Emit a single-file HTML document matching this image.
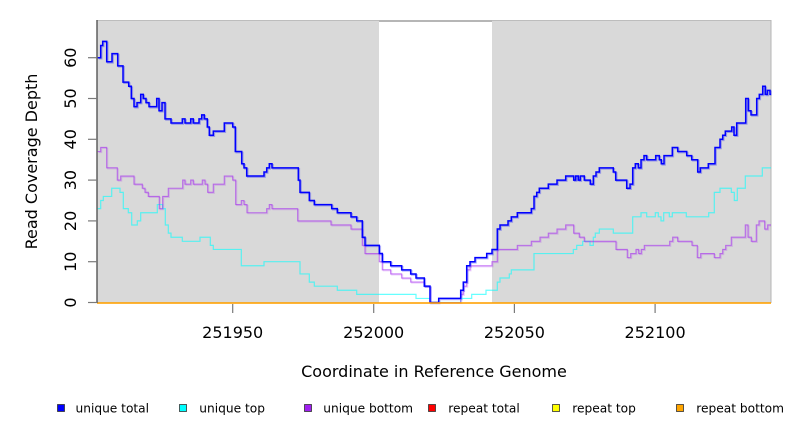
<!DOCTYPE html>
<html>
<head>
<meta charset="utf-8">
<style>
  html,body{margin:0;padding:0;background:#fff;}
  body{width:792px;height:432px;overflow:hidden;}
  svg{display:block;font-family:"DejaVu Sans","Liberation Sans",sans-serif;}
  .ln{fill:none;vector-effect:non-scaling-stroke;stroke-linejoin:miter;}
</style>
</head>
<body>
<svg width="792" height="432" viewBox="0 0 792 432" xmlns="http://www.w3.org/2000/svg">
  <!-- plot backgrounds -->
  <rect x="97" y="20" width="282" height="283" fill="#d9d9d9"/>
  <rect x="492" y="20" width="279" height="283" fill="#d9d9d9"/>
  <line x1="97" y1="20.5" x2="379" y2="20.5" stroke="#bdbdbd" stroke-width="1"/>
  <line x1="492" y1="20.5" x2="771" y2="20.5" stroke="#bdbdbd" stroke-width="1"/>
  <line x1="379" y1="21" x2="492" y2="21" stroke="#8a8a8a" stroke-width="1.2"/>
  <line x1="771" y1="20" x2="771" y2="303" stroke="#b5b5b5" stroke-width="1"/>

  <!-- halo copies -->
  <g transform="translate(1,303.5) scale(1,-4.08)">
    <path class="ln" stroke="#a020f0" stroke-opacity="0.2" stroke-width="1.1" d="M97.7 37 H100.7 V38 H106.7 V33 H117.3 V30 H120.7 V31 H134 V29 H142.3 V28 H145 V27 H148.3 V26 H159.3 V23 H162.7 V26 H168.3 V28 H182.7 V30 H185 V29 H190.7 V30 H193.3 V29 H202.3 V30 H205 V29 H207.7 V27 H213.3 V29 H224.3 V31 H232.7 V30 H235.7 V24 H241.3 V25 H244 V24 H247 V22 H266.7 V23 H269.3 V24 H272 V23 H297.7 V20 H331 V19 H351 V18 H362.3 V14 H365 V12 H379.3 V10 H382.3 V8 H390.7 V7 H401.7 V6 H410.7 V5 H424.3 V4 H430 V0 H460.7 V2 H463.3 V4 H466.7 V8 H470 V9 H492 V10 H497.3 V13 H517.3 V14 H531.3 V15 H540 V16 H548.3 V17 H557 V18 H565.7 V19 H573.7 V17 H579.3 V16 H584.3 V15 H616 V13 H627.3 V11 H630.7 V12 H636 V13 H638.7 V12 H641.3 V13 H644.3 V14 H669.7 V15 H672.7 V16 H677.7 V15 H692 V14 H697.3 V11 H700.7 V12 H714.3 V11 H720 V12 H722.7 V13 H725.7 V14 H731.3 V16 H745.3 V19 H748 V16 H751.3 V15 H756.3 V19 H759 V20 H764.7 V18 H767.7 V19 H770"/>
    <path class="ln" stroke="#0000ff" stroke-opacity="0.3" stroke-width="1.6" d="M97.7 60 H100.7 V63 H102.7 V64 H106.7 V59 H112 V61 H117.7 V58 H123 V54 H128.7 V53 H131.3 V50 H134 V48 H137 V49 H140.7 V51 H143.3 V50 H146 V49 H149 V48 H156.7 V50 H159 V47 H162 V49 H165 V45 H171 V44 H182.3 V45 H185 V44 H190.7 V45 H193.3 V44 H199 V45 H201.7 V46 H204.3 V45 H207.3 V43 H209.3 V41 H213.3 V42 H224.3 V44 H232.7 V43 H235.3 V37 H241.7 V34 H244 V33 H246.7 V31 H264 V32 H266.7 V33 H269.3 V34 H272 V33 H298.3 V30 H300 V27 H309.3 V25 H314.3 V24 H331.7 V23 H337.3 V22 H351 V21 H356.7 V20 H362.3 V16 H365 V14 H379.3 V12 H382.3 V10 H390.7 V9 H401.7 V8 H410.7 V7 H416 V6 H424.3 V4 H430 V0 H438.7 V1 H460.7 V3 H463.3 V5 H466.7 V9 H470 V10 H475 V11 H486.7 V12 H492 V13 H497.3 V18 H500 V19 H508 V20 H511.3 V21 H517.3 V22 H531.3 V23 H534 V26 H536.7 V27 H539.3 V28 H548.3 V29 H557 V30 H565.7 V31 H573.7 V30 H575.7 V31 H578.3 V30 H580.3 V31 H584.3 V30 H590.3 V29 H593.3 V31 H596 V32 H599.3 V33 H613.3 V32 H615.7 V30 H626.7 V28 H630 V29 H632.7 V33 H635.3 V34 H638.3 V33 H641 V35 H644 V36 H646.7 V35 H655.7 V36 H659.3 V35 H661.3 V34 H664 V36 H672.3 V38 H677.7 V37 H686.7 V36 H691.7 V35 H697.7 V32 H700.3 V33 H708.3 V34 H715 V38 H720 V40 H722.7 V41 H725.3 V42 H731.7 V43 H734 V41 H736.7 V44 H745.7 V50 H748.3 V47 H751 V46 H756.7 V50 H759.3 V51 H762.7 V53 H765.3 V51 H767.3 V52 H770 V51 H770"/>
  </g>

  <!-- main series -->
  <g transform="translate(0,302.5) scale(1,-4.08)">
    <path class="ln" stroke="#00ffff" stroke-opacity="0.6" stroke-width="1.2" d="M97.7 23 H100.7 V25 H103.3 V26 H111.7 V28 H120 V27 H123.3 V23 H128.3 V22 H131.7 V19 H137.3 V20 H140.7 V22 H157.3 V24 H162.7 V23 H165.3 V19 H168.3 V17 H171 V16 H182.3 V15 H200 V16 H210.3 V14 H213.3 V13 H241.3 V9 H264 V10 H300 V7 H309.3 V5 H314.3 V4 H337.3 V3 H356.7 V2 H416 V1 H430 V0 H460.7 V1 H471.7 V2 H486 V3 H497.3 V5 H500 V6 H509.3 V7 H511.3 V8 H534 V12 H573.3 V13 H576.7 V14 H582.7 V15 H590 V14 H593.3 V16 H595.3 V17 H599.3 V18 H613.3 V17 H632.7 V21 H641 V22 H646.7 V21 H655.3 V22 H658.3 V21 H661 V20 H663.7 V22 H669.3 V21 H672.3 V22 H686.3 V21 H708.7 V22 H714.3 V27 H720 V28 H731.3 V27 H734.3 V25 H737.3 V28 H745.3 V31 H762.3 V33 H771"/>
    <path class="ln" stroke="#a020f0" stroke-opacity="0.6" stroke-width="1.1" d="M97.7 37 H100.7 V38 H106.7 V33 H117.3 V30 H120.7 V31 H134 V29 H142.3 V28 H145 V27 H148.3 V26 H159.3 V23 H162.7 V26 H168.3 V28 H182.7 V30 H185 V29 H190.7 V30 H193.3 V29 H202.3 V30 H205 V29 H207.7 V27 H213.3 V29 H224.3 V31 H232.7 V30 H235.7 V24 H241.3 V25 H244 V24 H247 V22 H266.7 V23 H269.3 V24 H272 V23 H297.7 V20 H331 V19 H351 V18 H362.3 V14 H365 V12 H379.3 V10 H382.3 V8 H390.7 V7 H401.7 V6 H410.7 V5 H424.3 V4 H430 V0 H460.7 V2 H463.3 V4 H466.7 V8 H470 V9 H492 V10 H497.3 V13 H517.3 V14 H531.3 V15 H540 V16 H548.3 V17 H557 V18 H565.7 V19 H573.7 V17 H579.3 V16 H584.3 V15 H616 V13 H627.3 V11 H630.7 V12 H636 V13 H638.7 V12 H641.3 V13 H644.3 V14 H669.7 V15 H672.7 V16 H677.7 V15 H692 V14 H697.3 V11 H700.7 V12 H714.3 V11 H720 V12 H722.7 V13 H725.7 V14 H731.3 V16 H745.3 V19 H748 V16 H751.3 V15 H756.3 V19 H759 V20 H764.7 V18 H767.7 V19 H771"/>
    <path class="ln" stroke="#0000ff" stroke-width="1.5" d="M97.7 60 H100.7 V63 H102.7 V64 H106.7 V59 H112 V61 H117.7 V58 H123 V54 H128.7 V53 H131.3 V50 H134 V48 H137 V49 H140.7 V51 H143.3 V50 H146 V49 H149 V48 H156.7 V50 H159 V47 H162 V49 H165 V45 H171 V44 H182.3 V45 H185 V44 H190.7 V45 H193.3 V44 H199 V45 H201.7 V46 H204.3 V45 H207.3 V43 H209.3 V41 H213.3 V42 H224.3 V44 H232.7 V43 H235.3 V37 H241.7 V34 H244 V33 H246.7 V31 H264 V32 H266.7 V33 H269.3 V34 H272 V33 H298.3 V30 H300 V27 H309.3 V25 H314.3 V24 H331.7 V23 H337.3 V22 H351 V21 H356.7 V20 H362.3 V16 H365 V14 H379.3 V12 H382.3 V10 H390.7 V9 H401.7 V8 H410.7 V7 H416 V6 H424.3 V4 H430 V0 H438.7 V1 H460.7 V3 H463.3 V5 H466.7 V9 H470 V10 H475 V11 H486.7 V12 H492 V13 H497.3 V18 H500 V19 H508 V20 H511.3 V21 H517.3 V22 H531.3 V23 H534 V26 H536.7 V27 H539.3 V28 H548.3 V29 H557 V30 H565.7 V31 H573.7 V30 H575.7 V31 H578.3 V30 H580.3 V31 H584.3 V30 H590.3 V29 H593.3 V31 H596 V32 H599.3 V33 H613.3 V32 H615.7 V30 H626.7 V28 H630 V29 H632.7 V33 H635.3 V34 H638.3 V33 H641 V35 H644 V36 H646.7 V35 H655.7 V36 H659.3 V35 H661.3 V34 H664 V36 H672.3 V38 H677.7 V37 H686.7 V36 H691.7 V35 H697.7 V32 H700.3 V33 H708.3 V34 H715 V38 H720 V40 H722.7 V41 H725.3 V42 H731.7 V43 H734 V41 H736.7 V44 H745.7 V50 H748.3 V47 H751 V46 H756.7 V50 H759.3 V51 H762.7 V53 H765.3 V51 H767.3 V52 H770 V51 H771"/>
  </g>

  <!-- repeat series (all zero) -->
  <line x1="97" y1="303" x2="771" y2="303" stroke="#ff0000" stroke-width="1.2"/>
  <line x1="97" y1="303" x2="771" y2="303" stroke="#ffff00" stroke-width="1.2"/>
  <line x1="97" y1="303" x2="771" y2="303" stroke="#ffa500" stroke-width="1.3"/>

  <!-- left axis -->
  <line x1="97" y1="20" x2="97" y2="303" stroke="#555" stroke-width="1.4"/>
  <g stroke="#7a7a7a" stroke-width="1.2">
    <line x1="88" y1="302.5" x2="97" y2="302.5"/>
    <line x1="88" y1="261.7" x2="97" y2="261.7"/>
    <line x1="88" y1="220.9" x2="97" y2="220.9"/>
    <line x1="88" y1="180.1" x2="97" y2="180.1"/>
    <line x1="88" y1="139.3" x2="97" y2="139.3"/>
    <line x1="88" y1="98.5" x2="97" y2="98.5"/>
    <line x1="88" y1="57.7" x2="97" y2="57.7"/>
    <line x1="232.7" y1="304" x2="232.7" y2="313"/>
    <line x1="373.7" y1="304" x2="373.7" y2="313"/>
    <line x1="514.4" y1="304" x2="514.4" y2="313"/>
    <line x1="655.1" y1="304" x2="655.1" y2="313"/>
  </g>
  <g font-size="16" fill="#000" text-anchor="middle">
    <text transform="translate(76,302.5) rotate(-90)">0</text>
    <text transform="translate(76,261.7) rotate(-90)">10</text>
    <text transform="translate(76,220.9) rotate(-90)">20</text>
    <text transform="translate(76,180.1) rotate(-90)">30</text>
    <text transform="translate(76,139.3) rotate(-90)">40</text>
    <text transform="translate(76,98.5) rotate(-90)">50</text>
    <text transform="translate(76,57.7) rotate(-90)">60</text>
    <text x="232.7" y="338">251950</text>
    <text x="373.7" y="338">252000</text>
    <text x="514.4" y="338">252050</text>
    <text x="655.1" y="338">252100</text>
    <text x="434" y="377">Coordinate in Reference Genome</text>
    <text transform="translate(37,161.5) rotate(-90)">Read Coverage Depth</text>
  </g>

  <!-- legend -->
  <g stroke="#333" stroke-width="0.8">
    <rect x="57.5" y="404.5" width="7" height="7" fill="#0000ff"/>
    <rect x="179.5" y="404.5" width="7" height="7" fill="#00ffff"/>
    <rect x="304.5" y="404.5" width="7" height="7" fill="#a020f0"/>
    <rect x="428.5" y="404.5" width="7" height="7" fill="#ff0000"/>
    <rect x="552.5" y="404.5" width="7" height="7" fill="#ffff00"/>
    <rect x="676.5" y="404.5" width="7" height="7" fill="#ffa500"/>
  </g>
  <g font-size="12.2" fill="#000">
    <text x="75.5" y="412.5">unique total</text>
    <text x="199.3" y="412.5">unique top</text>
    <text x="323.3" y="412.5">unique bottom</text>
    <text x="448.3" y="412.5">repeat total</text>
    <text x="572.3" y="412.5">repeat top</text>
    <text x="696.3" y="412.5">repeat bottom</text>
  </g>
</svg>
</body>
</html>
